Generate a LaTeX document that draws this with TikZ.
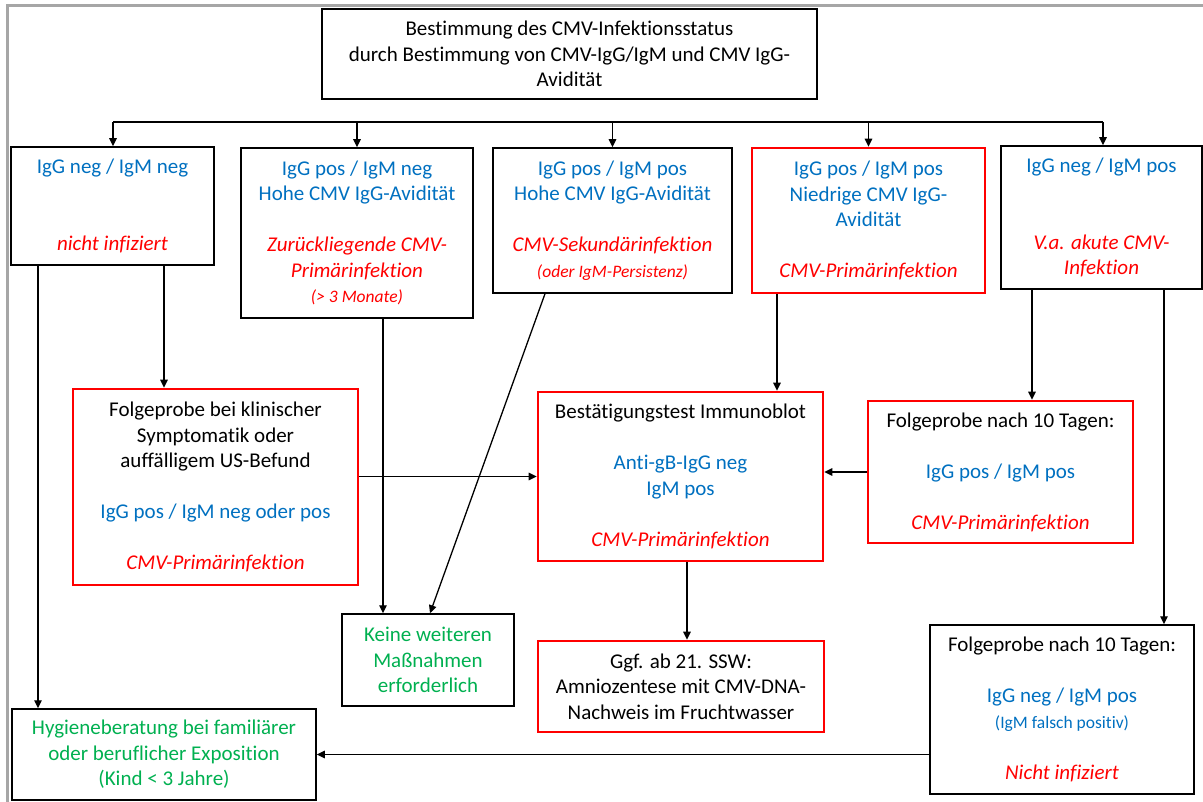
\documentclass[tikz,border=0pt]{standalone}
\usepackage{fontspec}
\setmainfont{Carlito}[Ligatures={NoCommon,NoContextual}]
\usetikzlibrary{arrows.meta,calc}
\definecolor{cblue}{RGB}{0,112,192}
\definecolor{cred}{RGB}{255,0,0}
\definecolor{cgreen}{RGB}{0,176,80}
\definecolor{cframe}{RGB}{166,166,166}
\newcommand{\txtB}[1]{\textcolor{cblue}{#1}}
\newcommand{\txtR}[1]{\textcolor{cred}{\itshape #1}}
\newcommand{\txtG}[1]{\textcolor{cgreen}{#1}}
\newcommand{\txtS}[1]{{\fontsize{17.5}{20}\selectfont #1}}
\newcommand{\blankline}{\mbox{}}
\begin{document}
\begin{tikzpicture}[x=1pt,y=-1pt,
  every node/.style={font=\fontsize{21}{25.5}\selectfont, align=center, inner sep=0pt},
  bbox/.style={draw=black, line width=1.5pt, rectangle},
  rbox/.style={draw=cred, line width=2.6pt, rectangle},
  arr/.style={draw=black, line width=1.3pt, -{Triangle[length=8pt,width=7.5pt]}},
  plain/.style={draw=black, line width=1.3pt}]
\useasboundingbox (0,0) rectangle (1203,802);
% frame
\draw[cframe, line width=3pt] (7.5,802) -- (7.5,6) -- (1203,6);

\node[bbox, minimum width=495pt, minimum height=90pt] (top) at (569.5,54)
 {Bestimmung des CMV-Infektionsstatus\\durch Bestimmung von CMV-IgG/IgM und CMV IgG-\\Avidität};

\node[bbox, minimum width=203pt, minimum height=118pt] (b1) at (112.5,206)
 {\txtB{IgG neg / IgM neg}\\ \blankline\\ \blankline\\ \txtR{nicht infiziert}};
\node[bbox, minimum width=232pt, minimum height=170pt] (b2) at (357,233)
 {\txtB{IgG pos / IgM neg}\\ \txtB{Hohe CMV IgG-Avidität}\\ \blankline\\ \txtR{Zurückliegende CMV-}\\ \txtR{Primärinfektion}\\ \txtR{\txtS{(> 3 Monate)}}};
\node[bbox, minimum width=239pt, minimum height=145pt] (b3) at (612.5,220.5)
 {\txtB{IgG pos / IgM pos}\\ \txtB{Hohe CMV IgG-Avidität}\\ \blankline\\ \txtR{CMV-Sekundärinfektion}\\ \txtR{\txtS{(oder IgM-Persistenz)}}};
\node[rbox, minimum width=233pt, minimum height=145pt] (b4) at (868.5,220.5)
 {\txtB{IgG pos / IgM pos}\\ \txtB{Niedrige CMV IgG-}\\ \txtB{Avidität}\\ \blankline\\ \txtR{CMV-Primärinfektion}};
\node[bbox, minimum width=201pt, minimum height=143pt] (b5) at (1101.5,217.5)
 {\txtB{IgG neg / IgM pos}\\ \blankline\\ \blankline\\ \txtR{V.a. akute CMV-}\\ \txtR{Infektion}};

\node[rbox, minimum width=285pt, minimum height=196pt] (f1) at (215.5,487)
 {Folgeprobe bei klinischer\\Symptomatik oder\\auffälligem US-Befund\\ \blankline\\ \txtB{IgG pos / IgM neg oder pos}\\ \blankline\\ \txtR{CMV-Primärinfektion}};
\node[rbox, minimum width=285pt, minimum height=169pt] (bt) at (680.5,476.5)
 {Bestätigungstest Immunoblot\\ \blankline\\ \txtB{Anti-gB-IgG neg}\\ \txtB{IgM pos}\\ \blankline\\ \txtR{CMV-Primärinfektion}};
\node[rbox, minimum width=265pt, minimum height=142pt] (f2) at (1000.5,472)
 {Folgeprobe nach 10 Tagen:\\ \blankline\\ \txtB{IgG pos / IgM pos}\\ \blankline\\ \txtR{CMV-Primärinfektion}};

\node[bbox, minimum width=172pt, minimum height=92pt] (k) at (428,660)
 {\txtG{Keine weiteren}\\ \txtG{Maßnahmen}\\ \txtG{erforderlich}};
\node[rbox, minimum width=286pt, minimum height=91pt] (a) at (681,686.5)
 {Ggf. ab 21. SSW:\\Amniozentese mit CMV-DNA-\\Nachweis im Fruchtwasser};
\node[bbox, minimum width=264pt, minimum height=169pt] (f3) at (1062,709.5)
 {Folgeprobe nach 10 Tagen:\\ \blankline\\ \txtB{IgG neg / IgM pos}\\ \txtB{\txtS{(IgM falsch positiv)}}\\ \blankline\\ \txtR{Nicht infiziert}};
\node[bbox, minimum width=304pt, minimum height=91pt] (h) at (164,754.5)
 {\txtG{Hygieneberatung bei familiärer}\\ \txtG{oder beruflicher Exposition}\\ \txtG{(Kind < 3 Jahre)}};

% bus
\coordinate (busL) at (113,122);
\coordinate (busR) at (1103,122);
\draw[plain] (busL) -- (busR);
\draw[arr] (busL) -- (b1.north -| busL);
\draw[arr] (b2.north |- busL) -- (b2.north);
\draw[arr] (b3.north |- busL) -- (b3.north);
\draw[arr] (b4.north |- busL) -- (b4.north);
\draw[arr] (busR) -- (b5.north -| busR);

% vertical guides
\coordinate (x38) at (38,0);
\coordinate (x164) at (164,0);
\coordinate (x383) at (383,0);
\coordinate (x545) at (545,0);
\coordinate (x430) at (430,0);
\coordinate (x777) at (777,0);
\coordinate (x687) at (687,0);
\coordinate (x1032) at (1032,0);
\coordinate (x1164) at (1164,0);

\draw[arr] (b1.south -| x38) -- (h.north -| x38);
\draw[arr] (b1.south -| x164) -- (f1.north -| x164);
\draw[arr] (b2.south -| x383) -- (k.north -| x383);
\draw[arr] (b3.south -| x545) -- (k.north -| x430);
\draw[arr] (b4.south -| x777) -- (bt.north -| x777);
\draw[arr] (b5.south -| x1032) -- (f2.north -| x1032);
\draw[arr] (b5.south -| x1164) -- (f3.north -| x1164);
\draw[arr] (f1.east |- bt.west) -- (bt.west);
\draw[arr] (f2.west) -- (bt.east |- f2.west);
\draw[arr] (bt.south -| x687) -- (a.north -| x687);
\draw[arr] (f3.west |- h.east) -- (h.east);
\end{tikzpicture}
\end{document}
